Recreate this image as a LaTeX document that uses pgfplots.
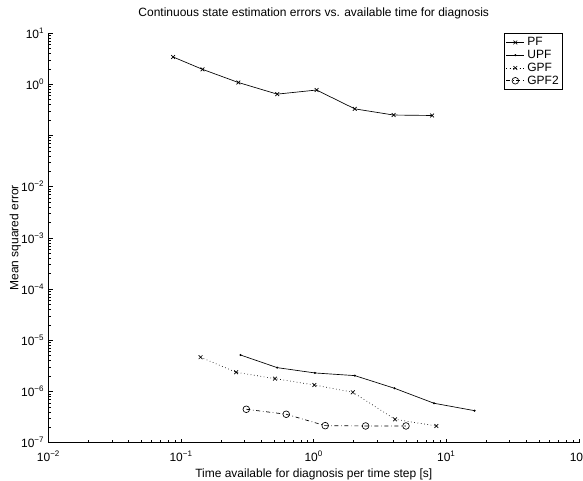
\documentclass[border=0pt]{standalone}
\usepackage{fontspec}
\setmainfont{Liberation Sans}
\usepackage{pgfplots}
\pgfplotsset{compat=1.18}
\newcommand{\mylog}{\pgfmathtruncatemacro\e{round(\tick/ln(10))}\ifnum\e<0 10\textsuperscript{−\number-\e}\else 10\textsuperscript{\e}\fi}
\begin{document}
\fontsize{9}{10.8}\selectfont
\begin{tikzpicture}
\begin{axis}[
  scale only axis, width=397.9pt, height=307.3pt,
  xmode=log, ymode=log,
  xmin=0.01, xmax=100, ymin=1e-7, ymax=10,
  axis lines=left, axis line style={-, line width=0.6pt},
  tick align=inside,
  major tick length=3pt, minor tick length=2pt,
  tick style={black, line width=0.4pt},
  xtick={0.01,0.1,1,10,100},
  ytick={1e-7,1e-6,1e-5,1e-4,1e-3,1e-2,1e-1,1,10},
  xticklabel={\mylog},
  yticklabels={10\textsuperscript{−7},10\textsuperscript{−6},10\textsuperscript{−5},10\textsuperscript{−4},10\textsuperscript{−3},10\textsuperscript{−2},,10\textsuperscript{0},10\textsuperscript{1}},
  tick label style={font=\fontsize{9}{10.8}\selectfont},
  xticklabel style={yshift=-3pt},
  title={Continuous state estimation errors vs. available time for diagnosis},
  title style={font=\fontsize{9}{10.8}\selectfont, yshift=1pt},
  xlabel={Time available for diagnosis per time step [s]},
  ylabel={Mean squared error},
  label style={font=\fontsize{9}{10.8}\selectfont},
  ylabel style={yshift=-6pt},
  xlabel style={yshift=1pt},
  legend style={at={(0.97,1)}, anchor=north east, draw=black, line width=0.6pt,
    font=\fontsize{9}{10.8}\selectfont, inner sep=1pt, row sep=-2pt},
  legend image code/.code={\draw[#1] (0pt,0pt) -- (13.5pt,0pt); \draw[#1, mark repeat=2, mark phase=2] plot coordinates {(0pt,0pt) (6.75pt,0pt) (13.5pt,0pt)};},
  legend cell align=left,
  every axis plot/.append style={black, line width=0.5pt},
]
\addplot[solid, mark=x, mark size=2pt, mark options={solid}] coordinates {
(0.087,3.4) (0.145,1.95) (0.27,1.08) (0.53,0.64) (1.05,0.77) (2.04,0.33) (4.0,0.25) (7.8,0.245)};
\addlegendentry{PF}
\addplot[solid, mark=*, mark size=0.5pt] coordinates {
(0.28,5.16e-6) (0.53,2.92e-6) (1.02,2.30e-6) (2.04,2.04e-6) (4.06,1.155e-6) (8.06,5.89e-7) (16.3,4.22e-7)};
\addlegendentry{UPF}
\addplot[dotted, mark=x, mark size=2pt, mark options={solid}] coordinates {
(0.14,4.66e-6) (0.26,2.37e-6) (0.51,1.78e-6) (1.01,1.34e-6) (1.97,9.64e-7) (4.1,2.86e-7) (8.4,2.12e-7)};
\addlegendentry{GPF}
\addplot[dash dot, mark=o, mark size=2.5pt, mark options={solid}] coordinates {
(0.31,4.49e-7) (0.62,3.59e-7) (1.22,2.15e-7) (2.46,2.12e-7) (4.96,2.12e-7)};
\addlegendentry{GPF2}
\end{axis}
\pgfresetboundingbox
\path ([xshift=-36.4pt, yshift=-28.7pt]current axis.south west) rectangle ([xshift=3pt, yshift=24.75pt]current axis.north east);
\end{tikzpicture}
\end{document}
